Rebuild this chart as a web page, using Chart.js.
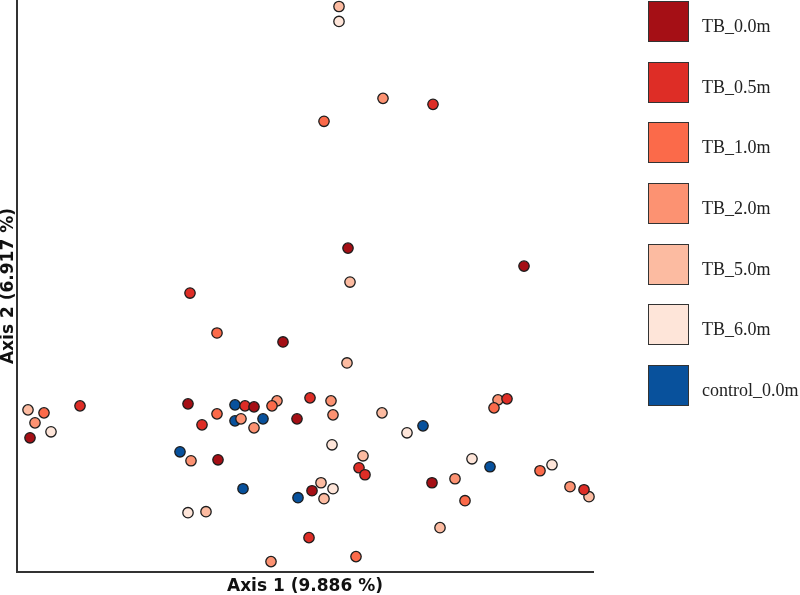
<!DOCTYPE html>
<html>
<head>
<meta charset="utf-8">
<script src="https://cdn.jsdelivr.net/npm/chart.js@4"></script>
<style>
  body { margin: 0; background: #fff; }
  #wrap { position: relative; width: 800px; height: 595px; overflow: hidden; }
  #pcoa { position: absolute; left: 0; top: -6px; }
  #legend { position: absolute; left: 648px; top: 1px; font-family: "Liberation Serif", serif; font-size: 18px; color: #222; }
  .item { position: relative; height: 60.7px; }
  .box { position: absolute; left: 0; top: 0; width: 39px; height: 39px; border: 1.5px solid #333; }
  .lbl { position: absolute; left: 54px; top: 15px; white-space: nowrap; }
</style>
</head>
<body>
<div id="wrap">
  <canvas id="pcoa" width="800" height="601"></canvas>
  <div id="legend"></div>
</div>
<script>
// groups and colours
const groups = ['TB_0.0m', 'TB_0.5m', 'TB_1.0m', 'TB_2.0m', 'TB_5.0m', 'TB_6.0m', 'control_0.0m'];
const colors = ['#a50f15', '#de2d26', '#fb6a4a', '#fc9272', '#fcbba1', '#fee5d9', '#08519c'];

// Axis 1 / Axis 2 scores (arbitrary units)
const x_tb00 = [13, 171, 237, 280, 201, 295, 415, 331, 507, 266];
const y_tb00 = [134, 168, 165, 153, 112, 81, 89, 324, 306, 230];

const x_tb05 = [63, 228, 185, 293, 342, 348, 292, 490, 567, 416, 173];
const y_tb05 = [166, 166, 147, 174, 104, 97, 34, 173, 82, 468, 279];

const x_tb10 = [27, 255, 200, 339, 448, 477, 523, 307, 200];
const y_tb10 = [159, 166, 158, 15, 71, 164, 101, 451, 239];

const x_tb20 = [18, 260, 224, 237, 174, 254, 314, 316, 438, 481, 553, 366];
const y_tb20 = [149, 171, 153, 144, 111, 10, 171, 157, 93, 172, 85, 474];

const x_tb50 = [11, 189, 330, 365, 346, 304, 307, 423, 572, 322, 333];
const y_tb50 = [162, 60, 209, 159, 116, 89, 73, 44, 75, 566, 290];

const x_tb60 = [34, 171, 390, 315, 316, 455, 535, 322];
const y_tb60 = [140, 59, 139, 127, 83, 113, 107, 551];

const x_ctrl = [218, 218, 246, 163, 226, 281, 406, 473];
const y_ctrl = [167, 151, 153, 120, 83, 74, 146, 105];

const xs = [x_tb00, x_tb05, x_tb10, x_tb20, x_tb50, x_tb60, x_ctrl];
const ys = [y_tb00, y_tb05, y_tb10, y_tb20, y_tb50, y_tb60, y_ctrl];

const datasets = groups.map((g, i) => ({
    label: g,
    data: xs[i].map((v, j) => ({ x: v, y: ys[i][j] })),
    backgroundColor: colors[i],
    borderColor: '#1c1c1c',
    borderWidth: 1.3,
    pointRadius: 5.2,
    clip: false
}));

const chart = new Chart(document.getElementById('pcoa'), {
    type: 'scatter',
    data: { datasets: datasets },
    options: {
        responsive: false,
        animation: false,
        layout: { padding: { left: 0, right: 207, top: 0, bottom: 0 } },
        plugins: {
            legend: { display: false },
            tooltip: { enabled: false }
        },
        scales: {
            x: {
                min: 0, max: 576,
                ticks: { display: false },
                grid: { display: false, drawTicks: false },
                border: { display: true, color: '#333', width: 2 },
                title: { display: true, text: 'Axis 1 (9.886 %)', color: '#111', font: { family: 'DejaVu Sans', size: 17, weight: 'bold', lineHeight: 1 }, padding: { top: 6.4, bottom: 0 } }
            },
            y: {
                min: 0, max: 572,
                ticks: { display: false },
                grid: { display: false, drawTicks: false },
                border: { display: true, color: '#333', width: 2 },
                title: { display: true, text: 'Axis 2 (6.917 %)', color: '#111', font: { family: 'DejaVu Sans', size: 17, weight: 'bold', lineHeight: 1 }, padding: { top: 0, bottom: 0 } }
            }
        }
    }
});

// legend on the right
const legend = document.getElementById('legend');
groups.forEach((g, i) => {
    const item = document.createElement('div');
    item.className = 'item';
    item.innerHTML = '<div class="box" style="background:' + colors[i] + '"></div><div class="lbl">' + g + '</div>';
    legend.appendChild(item);
});
</script>
</body>
</html>
